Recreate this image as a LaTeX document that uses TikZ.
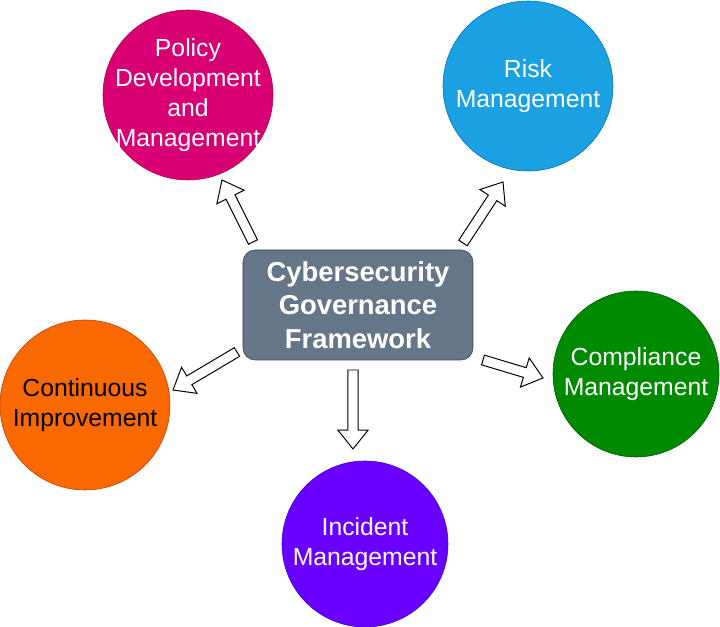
\documentclass[tikz,border=0pt]{standalone}
\usepackage{fontspec}
\setmainfont{Liberation Sans}
\usepackage{tikz}
\usetikzlibrary{positioning, calc}
\usepackage{xcolor}
\definecolor{frameGray}{HTML}{647687}
\definecolor{frameLine}{HTML}{314354}
\definecolor{policyPink}{HTML}{D80073}
\definecolor{policyLine}{HTML}{A50040}
\definecolor{riskBlue}{HTML}{1BA1E2}
\definecolor{riskLine}{HTML}{006EAF}
\definecolor{complianceGreen}{HTML}{008A00}
\definecolor{complianceLine}{HTML}{005700}
\definecolor{incidentPurple}{HTML}{6A00FF}
\definecolor{incidentLine}{HTML}{3700CC}
\definecolor{improveOrange}{HTML}{FA6800}
\definecolor{improveLine}{HTML}{C73500}

\begin{document}
\begin{tikzpicture}[
    on grid,
    frame/.style={rectangle, draw=frameLine, fill=frameGray, rounded corners=0.3cm, minimum width=5.75cm, minimum height=2.75cm, align=center, text=white, font=\fontsize{19.5}{24}\selectfont\bfseries},
    phase/.style={circle, minimum size=4.25cm, inner sep=0pt, align=center, text=white, font=\fontsize{17.6}{21.3}\selectfont},
    blockarrow/.style={draw=black, fill=white, line width=0.7pt, line join=miter,
        to path={let \p1=($(\tikztotarget)-(\tikztostart)$), \n1={atan2(\y1,\x1)} in
            ($(\tikztostart)+(\n1+90:3.6pt)$)
            -- ($(\tikztotarget)+(\n1+180:13.5pt)+(\n1+90:3.6pt)$)
            -- ($(\tikztotarget)+(\n1+180:13.5pt)+(\n1+90:10.8pt)$)
            -- (\tikztotarget)
            -- ($(\tikztotarget)+(\n1+180:13.5pt)+(\n1-90:10.8pt)$)
            -- ($(\tikztotarget)+(\n1+180:13.5pt)+(\n1-90:3.6pt)$)
            -- ($(\tikztostart)+(\n1-90:3.6pt)$) -- cycle}}
]
\useasboundingbox (-8.95,-8.05) rectangle (9.05,7.625);

\node[frame] (frame) at (0,0) {Cybersecurity\\Governance\\Framework};

% four lines of text would blow the circle up, so shrink the inner sep
\node[phase, fill=policyPink, draw=policyLine, inner sep=-0.35cm, above left=5.25cm and 4.25cm of frame] (policy) {Policy\\Development\\and\\Management};
\node[phase, fill=riskBlue, draw=riskLine, above right=5.475cm and 4.25cm of frame] (risk) {Risk\\Management};
\node[phase, fill=complianceGreen, draw=complianceLine, minimum size=4.15cm, below right=1.725cm and 6.95cm of frame] (compliance) {Compliance\\Management};
\node[phase, fill=incidentPurple, draw=incidentLine, minimum size=4.15cm, below right=5.975cm and 0.175cm of frame] (incident) {Incident\\Management};
\node[phase, fill=improveOrange, draw=improveLine, text=black, below left=2.5cm and 6.825cm of frame] (improve) {Continuous\\Improvement};

% arrow ends
\coordinate (policyTail) at (-2.625,1.575);
\coordinate (policyTip) at (-3.4,3.125);
\coordinate (riskTail) at (2.625,1.55);
\coordinate (riskTip) at (3.625,3.075);
\coordinate (complianceTail) at (3.125,-1.375);
\coordinate (complianceTip) at (4.625,-1.825);
\coordinate (incidentTail) at (-0.125,-1.625);
\coordinate (incidentTip) at (-0.125,-3.6);
\coordinate (improveTail) at (-3.025,-1.175);
\coordinate (improveTip) at (-4.625,-2.125);

\draw[blockarrow] (policyTail) to (policyTip);
\draw[blockarrow] (riskTail) to (riskTip);
\draw[blockarrow] (complianceTail) to (complianceTip);
\draw[blockarrow] (incidentTail) to (incidentTip);
\draw[blockarrow] (improveTail) to (improveTip);

\end{tikzpicture}
\end{document}
